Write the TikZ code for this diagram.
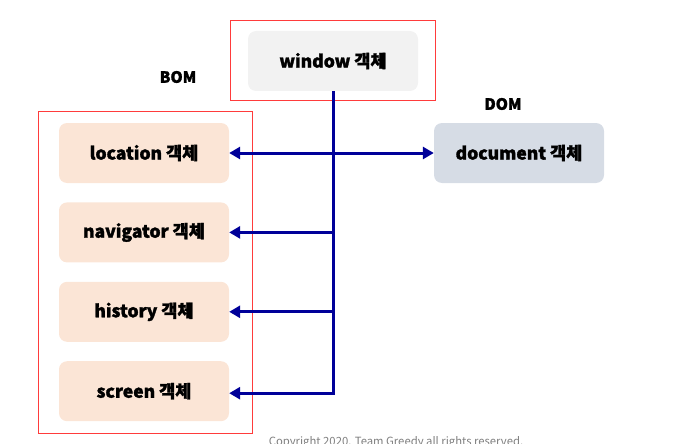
\documentclass[tikz,border=0pt]{standalone}
\usepackage{fontspec}
\setmainfont{Noto Sans CJK KR}
\newfontfamily\heavy[FakeBold=1.6]{Noto Sans CJK KR Black}
\usepackage{xcolor}
\usetikzlibrary{arrows.meta,positioning}
\definecolor{Peach}{HTML}{FBE5D6}
\definecolor{WinGray}{HTML}{F2F2F2}
\definecolor{DomGray}{HTML}{D6DCE5}
\definecolor{Frame}{HTML}{FF3B3B}
\definecolor{Navy}{HTML}{000099}
\definecolor{Note}{HTML}{7F7F7F}
\tikzset{
  objbox/.style={fill=Peach,rounded corners=8pt,minimum width=170pt,minimum height=60pt,align=center,font=\fontsize{17.5}{20}\heavy,text=black},
  winbox/.style={objbox,fill=WinGray},
  dombox/.style={objbox,fill=DomGray},
  group/.style={draw=Frame,line width=1pt},
  tag/.style={font=\fontsize{15.5}{17}\heavy,text=black},
  link/.style={-{Triangle[length=11pt,width=12pt]},draw=Navy,line width=3pt},
  biglink/.style={{Triangle[length=11pt,width=12pt]}-{Triangle[length=11pt,width=12pt]},draw=Navy,line width=3pt}
}

\begin{document}
\begin{tikzpicture}[x=1pt,y=-1pt,node distance=19pt]
  \useasboundingbox (0,0) rectangle (683,444);
  \clip (0,0) rectangle (683,444);
  % frames
  \draw[group] (230,21) rectangle (435,100);
  \draw[group] (38,111) rectangle (252,433);
  % objects
  \node[winbox] (win) at (333,61) {window 객체};
  \node[objbox] (loc) at (144,153) {location 객체};
  \node[objbox,below=of loc] (nav) {navigator 객체};
  \node[objbox,below=of nav] (hist) {history 객체};
  \node[objbox,below=of hist] (scr) {screen 객체};
  \node[dombox] (doc) at (519,153) {document 객체};
  \node[tag] (bom) at (178,77) {BOM};
  \node[tag] (dom) at (503,104) {DOM};
  % connectors
  \draw[link] (win.south) |- ([yshift=-2pt]scr.east);
  \draw[link] (win.south |- nav.east) -- (nav.east);
  \draw[link] (win.south |- hist.east) -- (hist.east);
  \draw[biglink] (loc.east) -- (doc.west);
  \node[anchor=base,font=\fontsize{11.3}{13}\selectfont,text=Note] (copy) at (396,445) {Copyright 2020. Team Greedy all rights reserved.};
\end{tikzpicture}
\end{document}
